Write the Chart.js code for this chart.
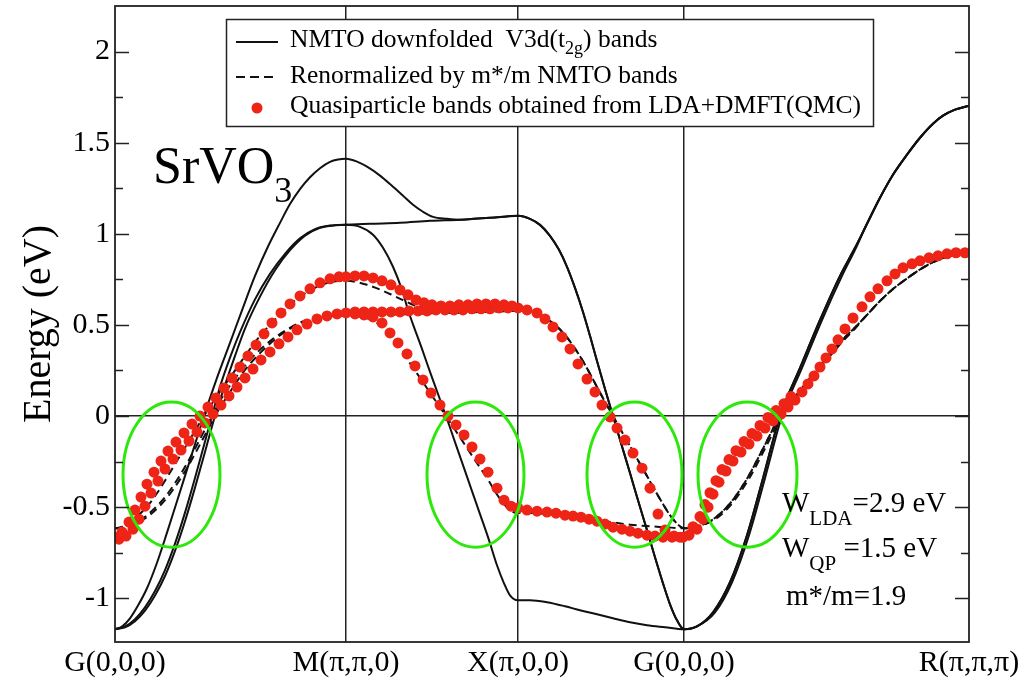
<!DOCTYPE html>
<html>
<head>
<meta charset="utf-8">
<title>SrVO3 band structure</title>
<script src="https://cdn.jsdelivr.net/npm/chart.js@4.4.1/dist/chart.umd.min.js"></script>
<style>
  html, body { margin: 0; padding: 0; background: #fff; }
  #wrap { width: 1035px; height: 680px; }
</style>
</head>
<body>
<div id="wrap"><canvas id="mycanvas" width="1035" height="680"></canvas></div>
<script>
// k-path positions of the high-symmetry points (path units) and their labels
var kTicks = [0, 2.31, 4.03, 5.69, 8.54];
var kLabels = ['G(0,0,0)', 'M(\u03c0,\u03c0,0)', 'X(\u03c0,0,0)', 'G(0,0,0)', 'R(\u03c0,\u03c0,\u03c0)'];
var eTicks = [-1, -0.75, -0.5, -0.25, 0, 0.25, 0.5, 0.75, 1, 1.25, 1.5, 1.75, 2];

// NMTO downfolded V3d(t2g) bands (eV)
var xgK23 = [4.15,4.25,4.35,4.44,4.52,4.60,4.68,4.75,4.82,4.90,4.98,5.06,5.15,5.23,5.32,5.40,5.48,5.55,5.62,5.69];
var xgE23 = [1.082,1.049,0.989,0.912,0.819,0.703,0.571,0.440,0.302,0.148,0,-0.148,-0.313,-0.462,-0.626,-0.775,-0.918,-1.033,-1.121,-1.170];
var grK12 = [5.82,5.98,6.15,6.32,6.48,6.65,6.85,7.05,7.25,7.40,7.52,7.65,7.78,7.92,8.05,8.18,8.28,8.40,8.54];
var grE12 = [-1.154,-1.077,-0.912,-0.654,-0.341,0,0.264,0.527,0.769,0.923,1.055,1.198,1.324,1.434,1.527,1.604,1.648,1.681,1.703];

var nmtoK1 = [0,0.10,0.20,0.30,0.40,0.50,0.60,0.70,0.80,0.90,1.00,1.10,1.20,1.30,1.45,1.60,1.75,1.90,2.05,2.20,2.31,
  2.45,2.58,2.68,2.78,2.87,2.93,3.00,3.07,3.15,3.23,3.31,3.40,3.48,3.57,3.65,3.74,3.82,3.89,3.95,4.03,
  4.15,4.32,4.50,4.65,4.82,4.98,5.15,5.32,5.50,5.69].concat(grK12);
var nmtoE1 = [-1.170,-1.160,-1.126,-1.068,-0.985,-0.878,-0.740,-0.577,-0.393,-0.197,0,0.170,0.330,0.480,0.655,0.800,0.910,0.990,1.033,1.047,1.049,
  1.038,0.995,0.923,0.819,0.692,0.582,0.473,0.368,0.242,0.121,0,-0.143,-0.269,-0.412,-0.538,-0.681,-0.819,-0.918,-0.984,-1.011,
  -1.011,-1.022,-1.044,-1.066,-1.088,-1.110,-1.132,-1.148,-1.159,-1.170].concat(grE12);

var nmtoK2 = [0,0.10,0.20,0.30,0.40,0.50,0.60,0.70,0.80,0.90,0.97,1.05,1.15,1.25,1.40,1.55,1.70,1.85,2.00,2.15,2.31,
  2.55,2.85,3.15,3.45,3.75,4.03].concat(xgK23, grK12);
var nmtoE2 = [-1.170,-1.155,-1.115,-1.050,-0.960,-0.845,-0.700,-0.530,-0.340,-0.140,0,0.160,0.320,0.460,0.640,0.780,0.890,0.975,1.025,1.045,1.049,
  1.055,1.060,1.071,1.077,1.088,1.099].concat(xgE23, grE12);

var nmtoK3 = [0,0.07,0.15,0.23,0.32,0.42,0.52,0.62,0.75,0.89,1.02,1.15,1.27,1.40,1.53,1.65,1.75,1.85,1.95,2.05,2.15,2.23,2.31,
  2.42,2.52,2.65,2.78,2.88,2.98,3.08,3.18,3.32,3.45,3.58,3.75,3.90,4.03].concat(xgK23,
  [5.82,6.00,6.17,6.34,6.50,6.67,6.87,7.07,7.27,7.41,7.52,7.65,7.78,7.92,8.05,8.18,8.28,8.40,8.54]);
var nmtoE3 = [-1.170,-1.155,-1.110,-1.040,-0.945,-0.805,-0.640,-0.468,-0.242,0,0.209,0.401,0.580,0.769,0.930,1.060,1.163,1.245,1.310,1.360,1.395,1.408,1.412,
  1.396,1.368,1.319,1.258,1.209,1.159,1.121,1.093,1.082,1.077,1.082,1.088,1.093,1.099].concat(xgE23, grE12);

// renormalized (m*/m) NMTO bands (eV), same k points as above
var rnXG23 = [0.569,0.552,0.521,0.480,0.431,0.370,0.301,0.232,0.159,0.078,0,-0.078,-0.165,-0.243,-0.329,-0.408,-0.483,-0.544,-0.590,-0.616];
var rnGR12 = [-0.607,-0.567,-0.480,-0.344,-0.179,0,0.139,0.277,0.405,0.486,0.555,0.631,0.697,0.755,0.804,0.844,0.867,0.885,0.896];
var renE1 = [-0.616,-0.611,-0.593,-0.562,-0.518,-0.462,-0.389,-0.304,-0.207,-0.104,0,0.089,0.174,0.253,0.345,0.421,0.479,0.521,0.544,0.551,0.552,
  0.546,0.524,0.486,0.431,0.364,0.306,0.249,0.194,0.127,0.064,0,-0.075,-0.142,-0.217,-0.283,-0.358,-0.431,-0.483,-0.518,-0.532,
  -0.532,-0.538,-0.549,-0.561,-0.573,-0.584,-0.596,-0.604,-0.610,-0.616].concat(rnGR12);
var renE2 = [-0.616,-0.608,-0.587,-0.553,-0.505,-0.445,-0.368,-0.279,-0.179,-0.074,0,0.084,0.168,0.242,0.337,0.411,0.468,0.513,0.539,0.550,0.552,
  0.555,0.558,0.564,0.567,0.573,0.578].concat(rnXG23, rnGR12);
var renE3 = [-0.616,-0.608,-0.584,-0.547,-0.497,-0.424,-0.337,-0.246,-0.127,0,0.110,0.211,0.305,0.405,0.489,0.558,0.612,0.655,0.689,0.716,0.734,0.741,0.743,
  0.735,0.720,0.694,0.662,0.636,0.610,0.590,0.575,0.569,0.567,0.569,0.573,0.575,0.578].concat(rnXG23, rnGR12);

// quasiparticle bands from LDA+DMFT(QMC) (eV)
var qpK1 = [0.00,0.07,0.14,0.20,0.26,0.32,0.39,0.46,0.53,0.61,0.69,0.77,0.85,0.93,1.01,1.09,1.17,1.25,1.33,1.41,
  1.49,1.57,1.66,1.75,1.85,1.95,2.05,2.15,2.24,2.31,2.40,2.49,2.58,2.67,2.76,2.85,2.93,3.01,3.09,3.17,
  3.26,3.35,3.44,3.53,3.62,3.71,3.80,3.89,3.97];
var qpE1 = [-0.665,-0.637,-0.582,-0.516,-0.445,-0.374,-0.308,-0.247,-0.192,-0.143,-0.093,-0.044,0.000,0.049,0.099,0.154,0.209,0.269,0.330,0.390,
  0.451,0.511,0.566,0.615,0.659,0.698,0.731,0.753,0.764,0.764,0.769,0.769,0.758,0.742,0.720,0.692,0.665,0.637,0.621,0.610,
  0.604,0.604,0.610,0.610,0.615,0.615,0.615,0.610,0.604];
var qpK2 = [2.40,2.49,2.58,2.67,2.76,2.85,2.94,3.03,3.12,3.21,3.30,3.39,3.48,3.57,3.66,3.75,3.84,3.93,4.03,
  4.12,4.22,4.30,4.38,4.47,4.55,4.63,4.72,4.80,4.87,4.95,5.02,5.10,5.18,5.27,5.35,5.43,5.50,5.59,5.68,
  5.78,5.85,5.90,5.95,6.01,6.07,6.14,6.21,6.29,6.37,6.45,6.53,6.61,6.69,6.76];
var qpE2 = [0.571,0.571,0.571,0.571,0.571,0.571,0.577,0.577,0.577,0.582,0.582,0.582,0.582,0.588,0.588,0.588,0.593,0.593,0.593,
  0.582,0.566,0.533,0.489,0.434,0.368,0.286,0.203,0.132,0.060,-0.005,-0.066,-0.132,-0.203,-0.286,-0.396,-0.538,-0.626,-0.659,-0.665,
  -0.607,-0.552,-0.486,-0.421,-0.355,-0.294,-0.239,-0.190,-0.140,-0.096,-0.052,-0.008,0.030,0.068,0.107];
var qpK3 = [0.04,0.11,0.18,0.24,0.30,0.36,0.43,0.50,0.58,0.66,0.74,0.82,0.90,0.98,1.06,1.14,1.22,1.30,1.38,1.46,
  1.55,1.64,1.73,1.82,1.92,2.02,2.12,2.22,2.31,
  2.40,2.49,2.58,2.67,2.75,2.83,2.92,3.00,3.08,3.16,3.25,3.33,3.41,3.49,3.57,3.65,3.73,3.82,3.89,3.96,4.03,
  4.12,4.22,4.32,4.41,4.50,4.58,4.66,4.74,4.82,4.90,4.98,5.07,5.15,5.23,5.32,5.40,5.48,5.57,5.65,
  5.74,5.82,5.88,5.93,5.98,6.04,6.11,6.18,6.26,6.34,6.42,6.50,6.58,6.66,6.73,6.80,6.87,6.93,6.99,7.05,
  7.11,7.17,7.23,7.30,7.38,7.47,7.55,7.63,7.72,7.80,7.88,7.97,8.05,8.14,8.23,8.32,8.41,8.50];
var qpE3 = [-0.676,-0.659,-0.621,-0.566,-0.495,-0.423,-0.357,-0.291,-0.236,-0.187,-0.137,-0.088,-0.038,0.011,0.060,0.110,0.159,0.209,0.258,0.308,
  0.352,0.396,0.434,0.473,0.505,0.533,0.549,0.560,0.566,
  0.560,0.555,0.544,0.511,0.456,0.401,0.341,0.275,0.198,0.126,0.060,0.000,-0.049,-0.104,-0.170,-0.236,-0.308,-0.396,-0.462,-0.495,-0.505,
  -0.516,-0.522,-0.527,-0.533,-0.544,-0.549,-0.555,-0.566,-0.577,-0.593,-0.610,-0.621,-0.632,-0.643,-0.654,-0.659,-0.665,-0.665,-0.665,
  -0.654,-0.621,-0.566,-0.500,-0.429,-0.363,-0.302,-0.247,-0.198,-0.154,-0.110,-0.066,-0.027,0.011,0.049,0.088,0.132,0.176,0.220,0.269,
  0.319,0.368,0.418,0.478,0.538,0.599,0.654,0.698,0.742,0.780,0.813,0.835,0.852,0.868,0.879,0.890,0.896,0.896];

// green ovals around the Fermi-level crossings: [kMin, kMax, eMin, eMax]
var ovals = [[0.08, 1.05, -0.72, 0.077], [3.12, 4.09, -0.72, 0.077], [4.72, 5.67, -0.72, 0.077], [5.83, 6.82, -0.72, 0.077]];

var SERIF = '"Liberation Serif", "Times New Roman", serif';
var RED = 'rgb(238,36,22)';

function pts(ks, es) {
  var out = [];
  for (var i = 0; i < ks.length; i++) out.push({x: ks[i], y: es[i]});
  return out;
}

function bandLine(label, ks, es, dash) {
  return {
    label: label, data: pts(ks, es), showLine: true,
    borderColor: '#111', borderWidth: 2, borderDash: dash,
    pointRadius: 0, cubicInterpolationMode: 'monotone', order: 2
  };
}

function qpDots(label, ks, es) {
  return {
    label: label, data: pts(ks, es), showLine: false,
    pointRadius: 5.5, pointBackgroundColor: RED, pointBorderWidth: 0, order: 1
  };
}

// text where every second piece is a subscript
function richText(ctx, x, y, parts, size, subSize, drop) {
  var cx = x;
  parts.forEach(function(p, i) {
    var sub = (i % 2 === 1);
    ctx.font = (sub ? subSize : size) + 'px ' + SERIF;
    ctx.fillText(p, cx, sub ? y + drop : y);
    cx += ctx.measureText(p).width;
  });
}

var decor = {
  id: 'decor',
  afterDatasetsDraw: function(chart) {
    var ctx = chart.ctx, xs = chart.scales.x, ys = chart.scales.y;
    ctx.save();
    ctx.strokeStyle = 'rgb(45,232,10)';
    ctx.lineWidth = 3;
    ovals.forEach(function(o) {
      var x0 = xs.getPixelForValue(o[0]), x1 = xs.getPixelForValue(o[1]);
      var y0 = ys.getPixelForValue(o[3]), y1 = ys.getPixelForValue(o[2]);
      ctx.beginPath();
      ctx.ellipse((x0 + x1) / 2, (y0 + y1) / 2, (x1 - x0) / 2, (y1 - y0) / 2, 0, 0, 2 * Math.PI);
      ctx.stroke();
    });
    ctx.restore();
  },
  afterDraw: function(chart) {
    var ctx = chart.ctx, a = chart.chartArea, ys = chart.scales.y;
    ctx.save();
    // frame
    ctx.strokeStyle = '#222';
    ctx.lineWidth = 1.8;
    ctx.strokeRect(a.left, a.top, a.right - a.left, a.bottom - a.top);
    // inward ticks on both sides
    ctx.lineWidth = 1.5;
    eTicks.forEach(function(v) {
      var y = Math.round(ys.getPixelForValue(v)) + 0.5;
      var len = (Math.abs(v * 2 - Math.round(v * 2)) < 1e-6) ? 14 : 8;
      ctx.beginPath();
      ctx.moveTo(a.left, y); ctx.lineTo(a.left + len, y);
      ctx.moveTo(a.right, y); ctx.lineTo(a.right - len, y);
      ctx.stroke();
    });

    // legend box
    var lx = a.left + 111, ly = a.top + 13;
    ctx.fillStyle = '#fff';
    ctx.fillRect(lx, ly, 647, 107);
    ctx.strokeStyle = '#222';
    ctx.lineWidth = 1.5;
    ctx.strokeRect(lx + 0.5, ly + 0.5, 647, 107);
    ctx.strokeStyle = '#111';
    ctx.lineWidth = 2;
    ctx.beginPath(); ctx.moveTo(lx + 10, ly + 23); ctx.lineTo(lx + 52, ly + 23); ctx.stroke();
    ctx.setLineDash([9, 5]);
    ctx.beginPath(); ctx.moveTo(lx + 10, ly + 58); ctx.lineTo(lx + 52, ly + 58); ctx.stroke();
    ctx.setLineDash([]);
    ctx.fillStyle = RED;
    ctx.beginPath(); ctx.arc(lx + 31, ly + 89, 5.5, 0, 2 * Math.PI); ctx.fill();
    ctx.fillStyle = '#000';
    ctx.textBaseline = 'alphabetic';
    ctx.textAlign = 'left';
    richText(ctx, lx + 64, ly + 28, ['NMTO downfolded  V3d(t', '2g', ') bands'], 25.5, 18, 7);
    richText(ctx, lx + 64, ly + 64, ['Renormalized by m*/m NMTO bands'], 25.5, 18, 7);
    richText(ctx, lx + 64, ly + 94, ['Quasiparticle bands obtained from LDA+DMFT(QMC)'], 25.5, 18, 7);

    // compound label
    richText(ctx, a.left + 38, a.top + 177, ['SrVO', '3'], 52, 36, 19);

    // band width annotations
    richText(ctx, a.left + 667, a.top + 506, ['W', 'LDA', '=2.9 eV'], 29, 21, 13);
    richText(ctx, a.left + 667, a.top + 551, ['W', 'QP', ' =1.5 eV'], 29, 21, 13);
    richText(ctx, a.left + 671, a.top + 599, ['m*/m=1.9'], 29, 21, 13);
    ctx.restore();
  }
};

new Chart(document.getElementById('mycanvas'), {
  type: 'scatter',
  data: {
    datasets: [
      qpDots('Quasiparticle bands obtained from LDA+DMFT(QMC)', qpK1, qpE1),
      qpDots('qp2', qpK2, qpE2),
      qpDots('qp3', qpK3, qpE3),
      bandLine('Renormalized by m*/m NMTO bands', nmtoK1, renE1, [8, 5]),
      bandLine('ren2', nmtoK2, renE2, [8, 5]),
      bandLine('ren3', nmtoK3, renE3, [8, 5]),
      bandLine('NMTO downfolded V3d(t2g) bands', nmtoK1, nmtoE1, []),
      bandLine('nmto2', nmtoK2, nmtoE2, []),
      bandLine('nmto3', nmtoK3, nmtoE3, [])
    ]
  },
  plugins: [decor],
  options: {
    responsive: false,
    animation: false,
    events: [],
    devicePixelRatio: 1,
    layout: { padding: { top: 6, right: 66, left: 0, bottom: 0 } },
    plugins: { legend: { display: false }, tooltip: { enabled: false } },
    scales: {
      x: {
        type: 'linear', min: 0, max: 8.54,
        afterBuildTicks: function(s) { s.ticks = kTicks.map(function(v) { return {value: v}; }); },
        afterFit: function(s) { s.height = 38; s.paddingLeft = 0; s.paddingRight = 0; },
        border: { display: false },
        grid: {
          drawTicks: false, lineWidth: 1.5,
          color: function(c) {
            if (!c.tick) return 'rgba(0,0,0,0)';
            return (c.tick.value === kTicks[0] || c.tick.value === kTicks[kTicks.length - 1]) ? 'rgba(0,0,0,0)' : '#222';
          }
        },
        ticks: {
          autoSkip: false, maxRotation: 0, padding: 3, color: '#000',
          font: { family: SERIF, size: 30 },
          callback: function(v, i) { return kLabels[i]; }
        }
      },
      y: {
        type: 'linear', min: -1.24, max: 2.25,
        afterBuildTicks: function(s) { s.ticks = eTicks.map(function(v) { return {value: v}; }); },
        afterFit: function(s) { s.width = 115; s.paddingTop = 0; s.paddingBottom = 0; },
        border: { display: false },
        grid: {
          drawTicks: false, lineWidth: 1.5,
          color: function(c) { return (c.tick && c.tick.value === 0) ? '#222' : 'rgba(0,0,0,0)'; }
        },
        ticks: {
          autoSkip: false, padding: 5, color: '#000',
          font: { family: SERIF, size: 30 },
          callback: function(v) { return (Math.abs(v * 2 - Math.round(v * 2)) < 1e-6) ? String(v) : ''; }
        },
        title: {
          display: true, text: 'Energy (eV)', color: '#000',
          font: { family: SERIF, size: 40 },
          padding: { top: 15, bottom: 0 }
        }
      }
    }
  }
});
</script>
</body>
</html>
